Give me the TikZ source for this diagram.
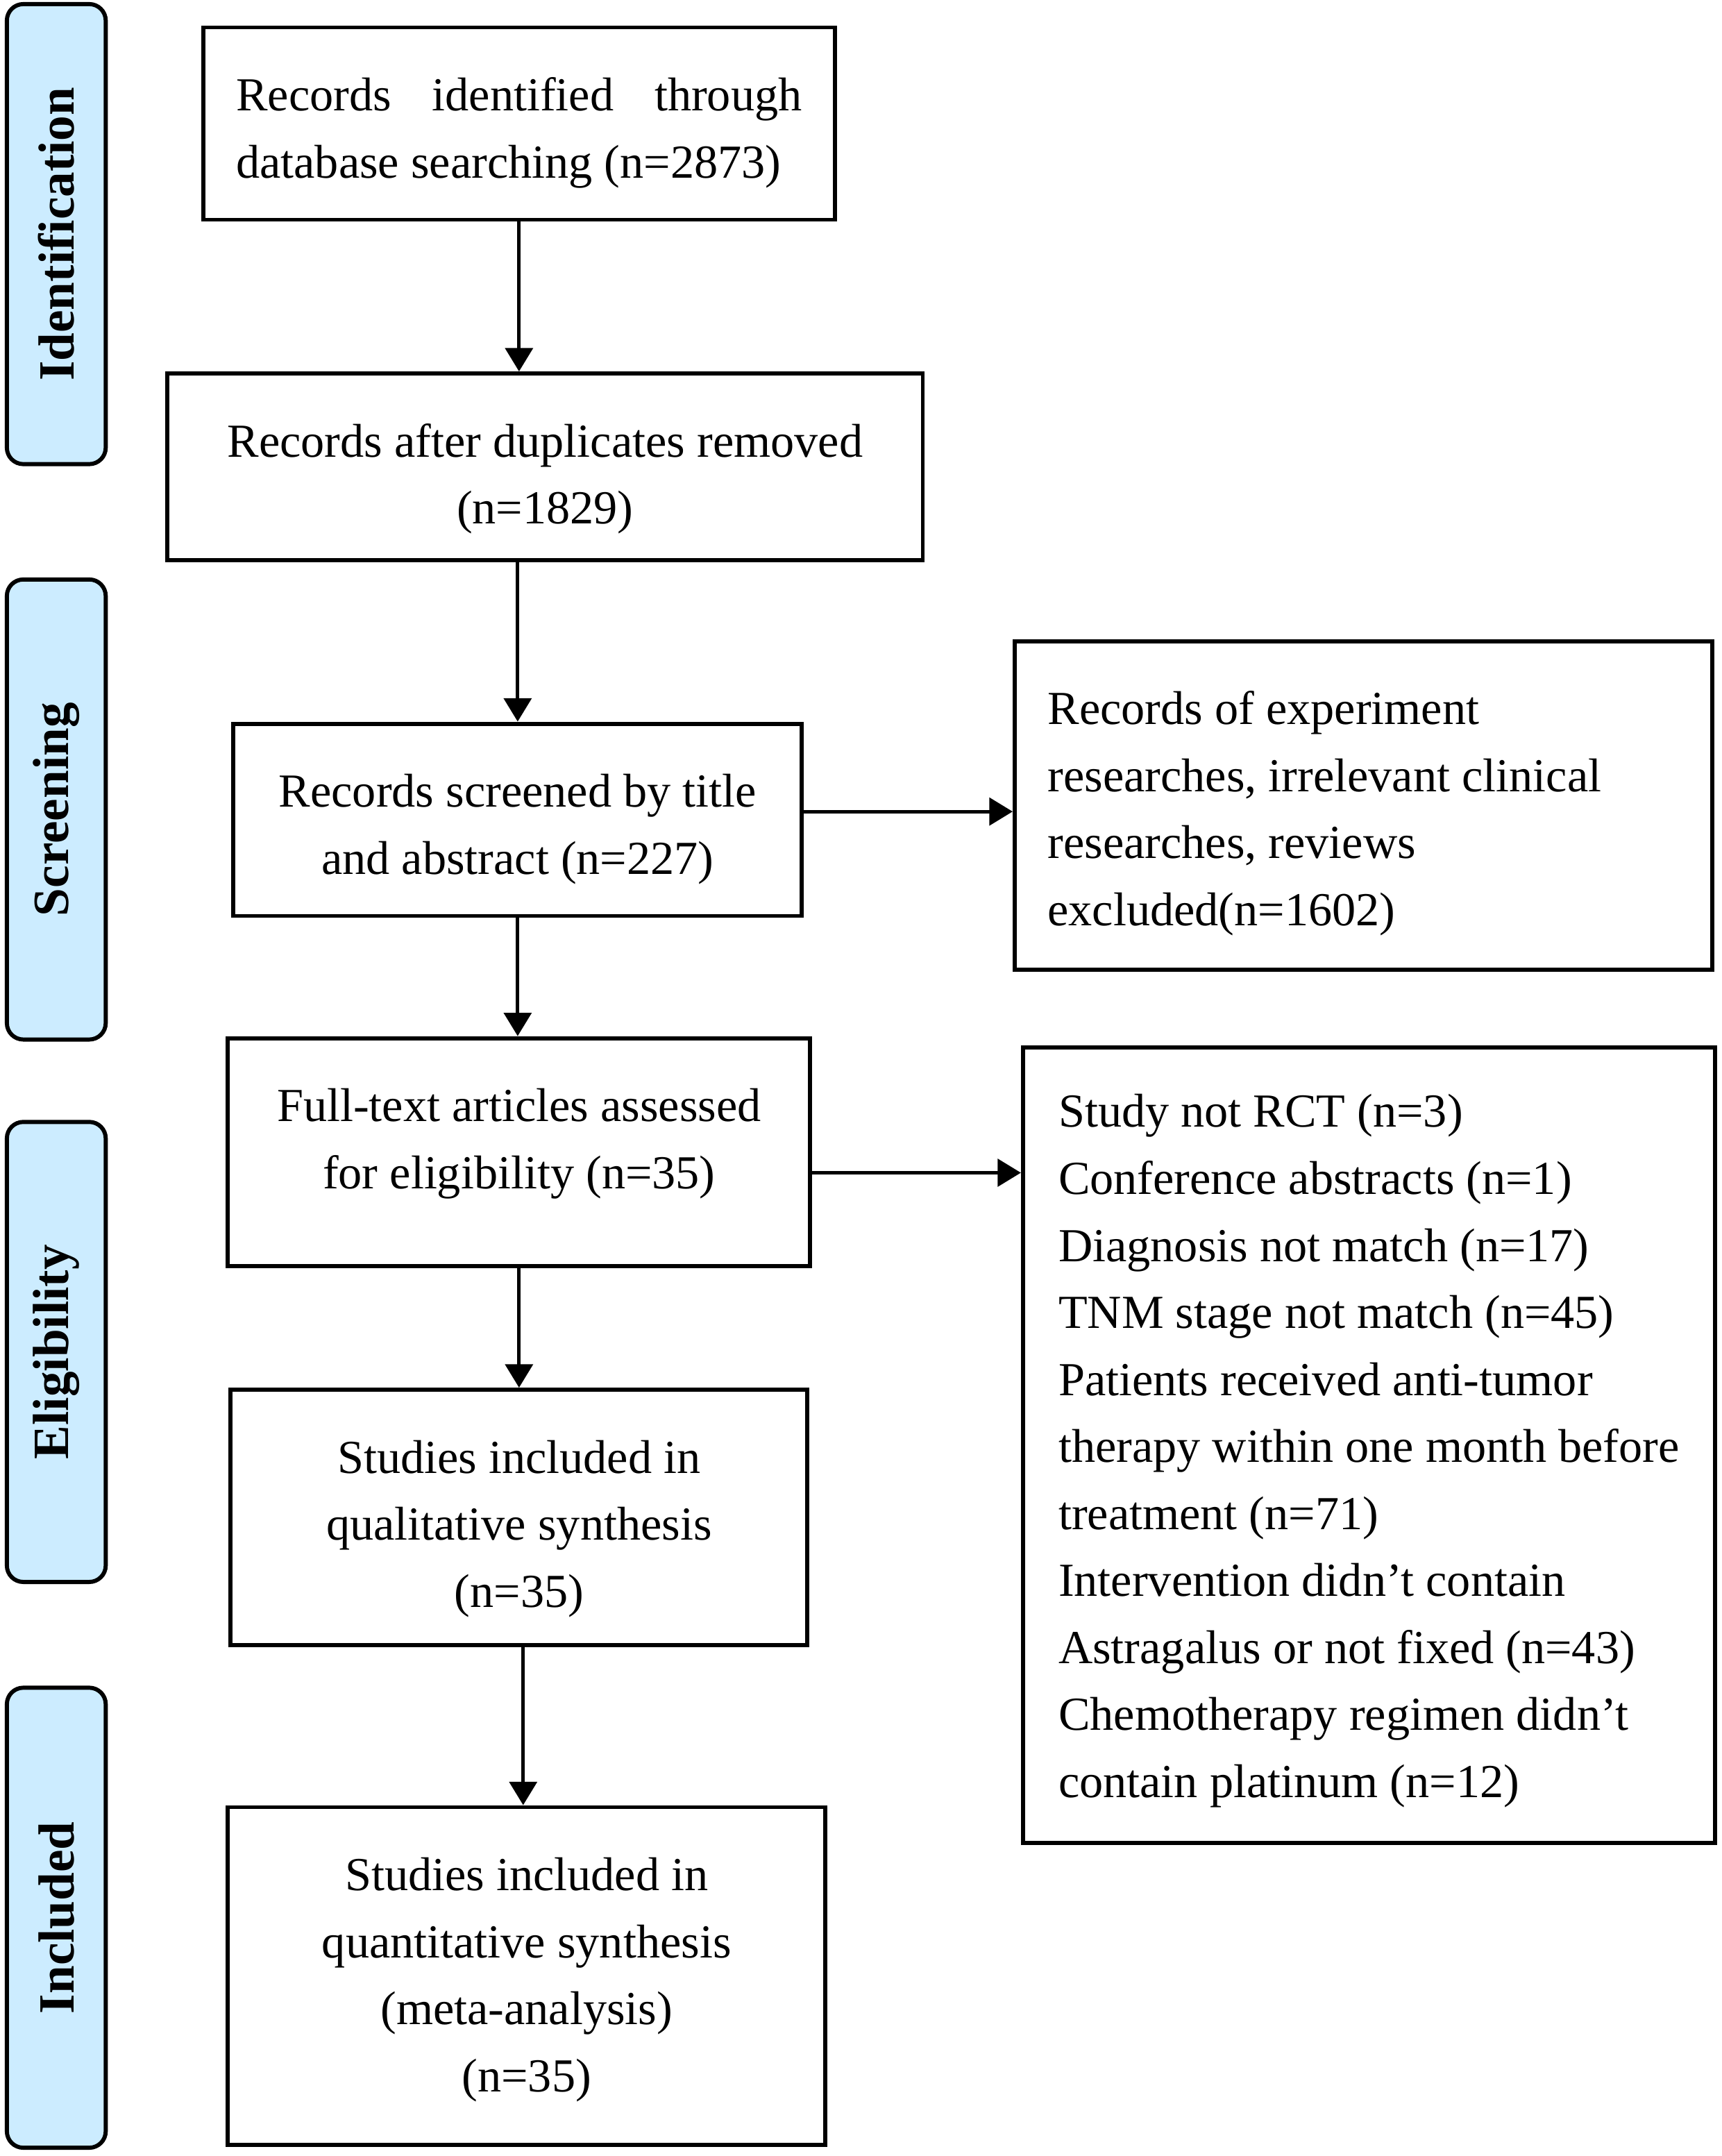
\documentclass[tikz,border=0pt]{standalone}
\usepackage{fontspec}
\setmainfont{Liberation Serif}
\usetikzlibrary{arrows.meta}
\definecolor{lblblue}{RGB}{204,236,255}
\begin{document}
\begin{tikzpicture}[x=1pt,y=1pt,
  frame/.style={draw=black, line width=3pt, inner sep=0pt},
  txt/.style={anchor=north, inner xsep=0pt, inner ysep=0pt,
    font=\fontsize{34.5}{48.8}\selectfont},
  stage/.style={draw=black, line width=3pt, fill=lblblue, rounded corners=12pt,
    rotate=90, minimum width=335pt, minimum height=72pt, inner sep=0pt,
    font=\fontsize{37}{44}\selectfont\bfseries},
  arr/.style={line width=2.5pt, -{Triangle[length=17pt,width=20pt]}}]
\useasboundingbox (0,0) rectangle (1254,1570);

% stage labels
\node[stage] (sid) at (41,1399.5) {Identification};
\node[stage] (ssc) at (41,980.5) {Screening};
\node[stage] (sel) at (41,585.5) {Eligibility};
\node[stage] (sin) at (41,173.5) {Included};

% box frames
\node[frame, minimum width=460pt, minimum height=140pt] (b1) at (378,1480) {};
\node[frame, minimum width=550pt, minimum height=136pt] (b2) at (397,1230) {};
\node[frame, minimum width=414pt, minimum height=140pt] (b3) at (377,973) {};
\node[frame, minimum width=508pt, minimum height=239pt] (b4) at (993,983.5) {};
\node[frame, minimum width=424pt, minimum height=166pt] (b5) at (378,731) {};
\node[frame, minimum width=504pt, minimum height=579pt] (b6) at (997,517.5) {};
\node[frame, minimum width=420pt, minimum height=186pt] (b7) at (378,465) {};
\node[frame, minimum width=435pt, minimum height=246pt] (b8) at (383.5,131) {};

% box texts
\node[txt, text width=412pt, align=flush left] (t1) at ([yshift=-27.8pt]b1.north)
  {\strut\makebox[412pt]{Records\hfill identified\hfill through}\\database searching (n=2873)};
\node[txt, align=center] (t2) at ([yshift=-27.8pt]b2.north)
  {\strut Records after duplicates removed\\(n=1829)};
\node[txt, align=center] (t3) at ([yshift=-27.8pt]b3.north)
  {\strut Records screened by title\\and abstract (n=227)};
\node[txt, text width=460pt, align=flush left] (t4) at ([yshift=-27.8pt]b4.north)
  {\strut Records of experiment\\researches, irrelevant clinical\\researches, reviews\\excluded(n=1602)};
\node[txt, align=center] (t5) at ([yshift=-27.8pt]b5.north)
  {\strut Full-text articles assessed\\for eligibility (n=35)};
\node[txt, align=left] (t6) at ([yshift=-25pt]b6.north)
  {\strut Study not RCT (n=3)\\Conference abstracts (n=1)\\Diagnosis not match (n=17)\\TNM stage not match (n=45)\\Patients received anti-tumor\\therapy within one month before\\treatment (n=71)\\Intervention didn’t contain\\Astragalus or not fixed (n=43)\\Chemotherapy regimen didn’t\\contain platinum (n=12)};
\node[txt, align=center] (t7) at ([yshift=-27.8pt]b7.north)
  {\strut Studies included in\\qualitative synthesis\\(n=35)};
\node[txt, align=center] (t8) at ([yshift=-27.8pt]b8.north)
  {\strut Studies included in\\quantitative synthesis\\(meta-analysis)\\(n=35)};

% connectors
\draw[arr] (b1.south) -- (b1.south |- b2.north);
\draw[arr] (b3.north |- b2.south) -- (b3.north);
\draw[arr] (b3.south) -- (b3.south |- b5.north);
\draw[arr] (b5.south) -- (b5.south |- b7.north);
\draw[arr] ([xshift=3pt]b7.south) -- ([xshift=3pt]b7.south |- b8.north);
\draw[arr] ([yshift=6pt]b3.east) -- ([yshift=6pt]b3.east -| b4.west);
\draw[arr] ([yshift=-15pt]b5.east) -- ([yshift=-15pt]b5.east -| b6.west);
\end{tikzpicture}
\end{document}
